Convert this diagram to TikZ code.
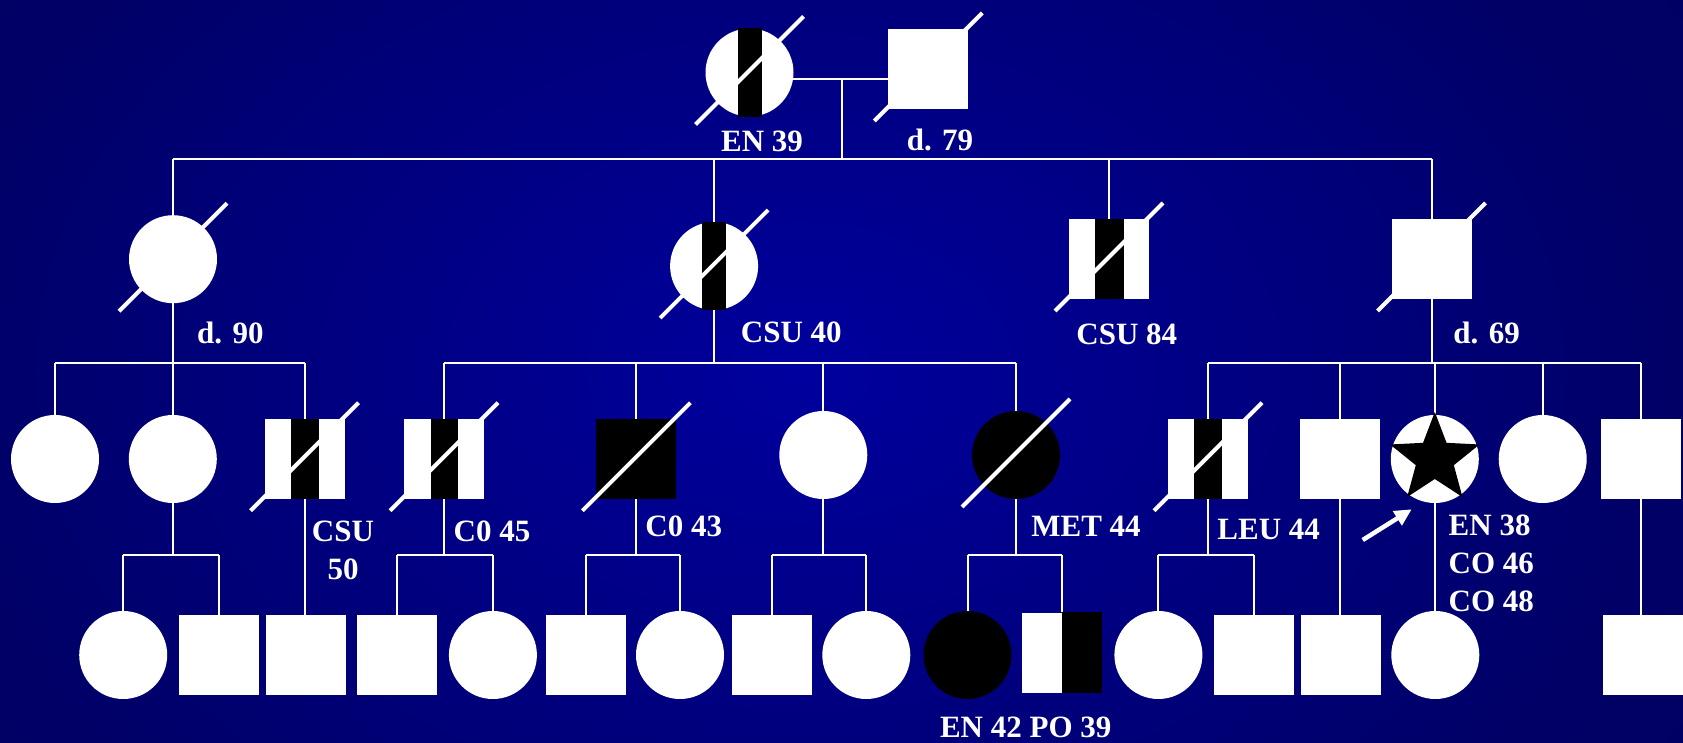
\documentclass[tikz,border=0pt]{standalone}
\usepackage{fontspec}
\setmainfont{Liberation Serif}
\usetikzlibrary{arrows.meta}
\pgfdeclarelayer{bg}
\pgfdeclarelayer{lines}
\pgfsetlayers{bg,lines,main}
\pgfdeclareradialshading{bgshade}{\pgfpoint{0bp}{0bp}}{rgb(0bp)=(0,0,0.62); rgb(25bp)=(0,0,0.40); rgb(50bp)=(0,0,0.36)}
\begin{document}
\begin{tikzpicture}[x=1pt,y=-1pt,
  fem/.style={circle,minimum size=88pt,inner sep=0pt,fill=white},
  mal/.style={rectangle,minimum size=80pt,inner sep=0pt,fill=white},
  aff/.style={fill=black},
  link/.style={draw=white,line width=2pt},
  slash/.style={draw=white,line width=4pt},
  lbl/.style={text=white,font=\bfseries\fontsize{31}{38.3}\selectfont,anchor=base,inner sep=0pt}]
\useasboundingbox (0,0) rectangle (1683,743);
\begin{pgfonlayer}{bg}
\begin{scope}
\clip (0,0) rectangle (1683,743);
\shade[shading=bgshade] (-83,-250) rectangle (1683,993);
\end{scope}
\end{pgfonlayer}
% Generation I
\node[fem] (g1f) at (749.5,72.5) {};
\node[mal] (g1m) at (928.3,69) {};
% Generation II
\node[fem] (g2a) at (173,259.2) {};
\node[fem] (g2b) at (714.1,266) {};
\node[mal] (g2c) at (1109,259) {};
\node[mal] (g2d) at (1431.5,259) {};
% Generation III
\node[fem] (c1) at (55,459) {};
\node[fem] (c2) at (172.8,459) {};
\node[mal] (c3) at (304.5,458.7) {};
\node[mal] (c4) at (444,458.7) {};
\node[mal,aff] (c5) at (636.4,458.7) {};
\node[fem] (c6) at (823.3,455) {};
\node[fem,aff] (c7) at (1016,455) {};
\node[mal] (c8) at (1208,458.7) {};
\node[mal] (c9) at (1340,458.7) {};
\node[fem] (c10) at (1434.8,459) {};
\node[fem] (c11) at (1542.7,459) {};
\node[mal] (c12) at (1641,458.7) {};
% Generation IV
\node[fem] (d1) at (123.2,655) {};
\node[mal] (d2) at (218.7,654.8) {};
\node[mal] (d3) at (306,654.8) {};
\node[mal] (d4) at (397.1,654.8) {};
\node[fem] (d5) at (492.9,655) {};
\node[mal] (d6) at (585.7,654.8) {};
\node[fem] (d7) at (680,655) {};
\node[mal] (d8) at (771.5,654.8) {};
\node[fem] (d9) at (866.3,655) {};
\node[fem,aff] (d10) at (967.5,655) {};
\node[mal] (d11) at (1061.8,652.5) {};
\node[fem] (d12) at (1158.4,655) {};
\node[mal] (d13) at (1253.7,654.8) {};
\node[mal] (d14) at (1341,654.8) {};
\node[fem] (d15) at (1435.3,655) {};
\node[mal] (d16) at (1642.5,654.8) {};
% connectors
\coordinate (mar) at (841.7,79);
\coordinate (s2) at (0,159.3);
\coordinate (s3) at (0,362.7);
\coordinate (s4) at (0,555);
\begin{pgfonlayer}{lines}
\draw[link] (g1f.center |- mar) -- (g1m.center |- mar);
\draw[link] (mar) -- (mar |- s2);
\draw[link] (g2a.center |- s2) -- (g2d.center |- s2);
\foreach \n in {g2a,g2b,g2c,g2d} \draw[link] (\n.north) -- (\n.north |- s2);
\draw[link] (g2a.south) -- (g2a.south |- s3);
\draw[link] (c1.center |- s3) -- (c3.center |- s3);
\draw[link] (g2b.south) -- (g2b.south |- s3);
\draw[link] (c4.center |- s3) -- (c7.center |- s3);
\draw[link] (g2d.south) -- (g2d.south |- s3);
\draw[link] (c8.center |- s3) -- (c12.center |- s3);
\foreach \n in {c1,c2,c3,c4,c5,c6,c7,c8,c9,c10,c11,c12} \draw[link] (\n.north) -- (\n.north |- s3);
\draw[link] (c2.south) -- (c2.south |- s4);
\draw[link] (d1.center |- s4) -- (d2.center |- s4);
\draw[link] (c4.south) -- (c4.south |- s4);
\draw[link] (d4.center |- s4) -- (d5.center |- s4);
\draw[link] (c5.south) -- (c5.south |- s4);
\draw[link] (d6.center |- s4) -- (d7.center |- s4);
\draw[link] (c6.south) -- (c6.south |- s4);
\draw[link] (d8.center |- s4) -- (d9.center |- s4);
\draw[link] (c7.south) -- (c7.south |- s4);
\draw[link] (d10.center |- s4) -- (d11.center |- s4);
\draw[link] (c8.south) -- (c8.south |- s4);
\draw[link] (d12.center |- s4) -- (d13.center |- s4);
\foreach \n in {d1,d2,d4,d5,d6,d7,d8,d9,d10,d11,d12,d13} \draw[link] (\n.north) -- (\n.north |- s4);
\draw[link] (c3.south) -- (c3.south |- d3.north);
\draw[link] (c9.south) -- (c9.south |- d14.north);
\draw[link] (c10.south) -- (c10.south |- d15.north);
\draw[link] (c12.south) -- (c12.south |- d16.north);
\end{pgfonlayer}
% carrier stripes
\fill[black] ([xshift=-12pt]g1f.north) rectangle ([xshift=12pt]g1f.south);
\fill[black] ([xshift=-12pt]g2b.north) rectangle ([xshift=12pt]g2b.south);
\fill[black] ([xshift=-14.5pt]g2c.north) rectangle ([xshift=14.5pt]g2c.south);
\fill[black] ([xshift=-14pt]c3.north) rectangle ([xshift=14pt]c3.south);
\fill[black] ([xshift=-13.5pt]c4.north) rectangle ([xshift=13.5pt]c4.south);
\fill[black] ([xshift=-14pt]c8.north) rectangle ([xshift=14pt]c8.south);
\fill[black] (d11.north) rectangle (d11.south east);
% proband star
\begin{scope}[shift={(c10.center)}]
\fill[black] (90:47pt) -- (126:20pt) -- (162:47pt) -- (198:20pt) -- (234:47pt) -- (270:20pt) -- (306:47pt) -- (342:20pt) -- (18:47pt) -- (54:20pt) -- cycle;
\end{scope}
% deceased slashes
\foreach \n in {g1f,g1m,g2a,g2b,g2c,g2d,c3,c4,c5,c7,c8}
  \draw[slash] ([shift={(-54pt,-52pt)}]\n.center) -- ([shift={(54pt,56pt)}]\n.center);
% proband arrow
\coordinate (arrT) at (1362.7,540);
\coordinate (arrH) at (1411.7,509.3);
\draw[white,line width=4.5pt,-{Triangle[length=17pt,width=16pt]}] (arrT) -- (arrH);
% labels
\node[lbl] (t1) at (762,151.7) {EN 39};
\node[lbl] (t2) at (940,151) {d. 79};
\node[lbl] (t3) at (230.4,343.3) {d. 90};
\node[lbl] (t4) at (791.3,342.7) {CSU 40};
\node[lbl] (t5) at (1126.8,344) {CSU 84};
\node[lbl] (t6) at (1486.6,343.3) {d. 69};
\node[lbl,align=center] (t7) at (343,579.5) {CSU\\50};
\node[lbl] (t8) at (492,541.7) {C0 45};
\node[lbl] (t9) at (683.8,536.7) {C0 43};
\node[lbl] (t10) at (1086,536.7) {MET 44};
\node[lbl] (t11) at (1268.7,539.3) {LEU 44};
\node[lbl,anchor=base west,align=left] (t12) at (1448.5,611.7) {EN 38\\CO 46\\CO 48};
\node[lbl] (t13) at (1025.7,737.3) {EN 42 PO 39};
\end{tikzpicture}
\end{document}
